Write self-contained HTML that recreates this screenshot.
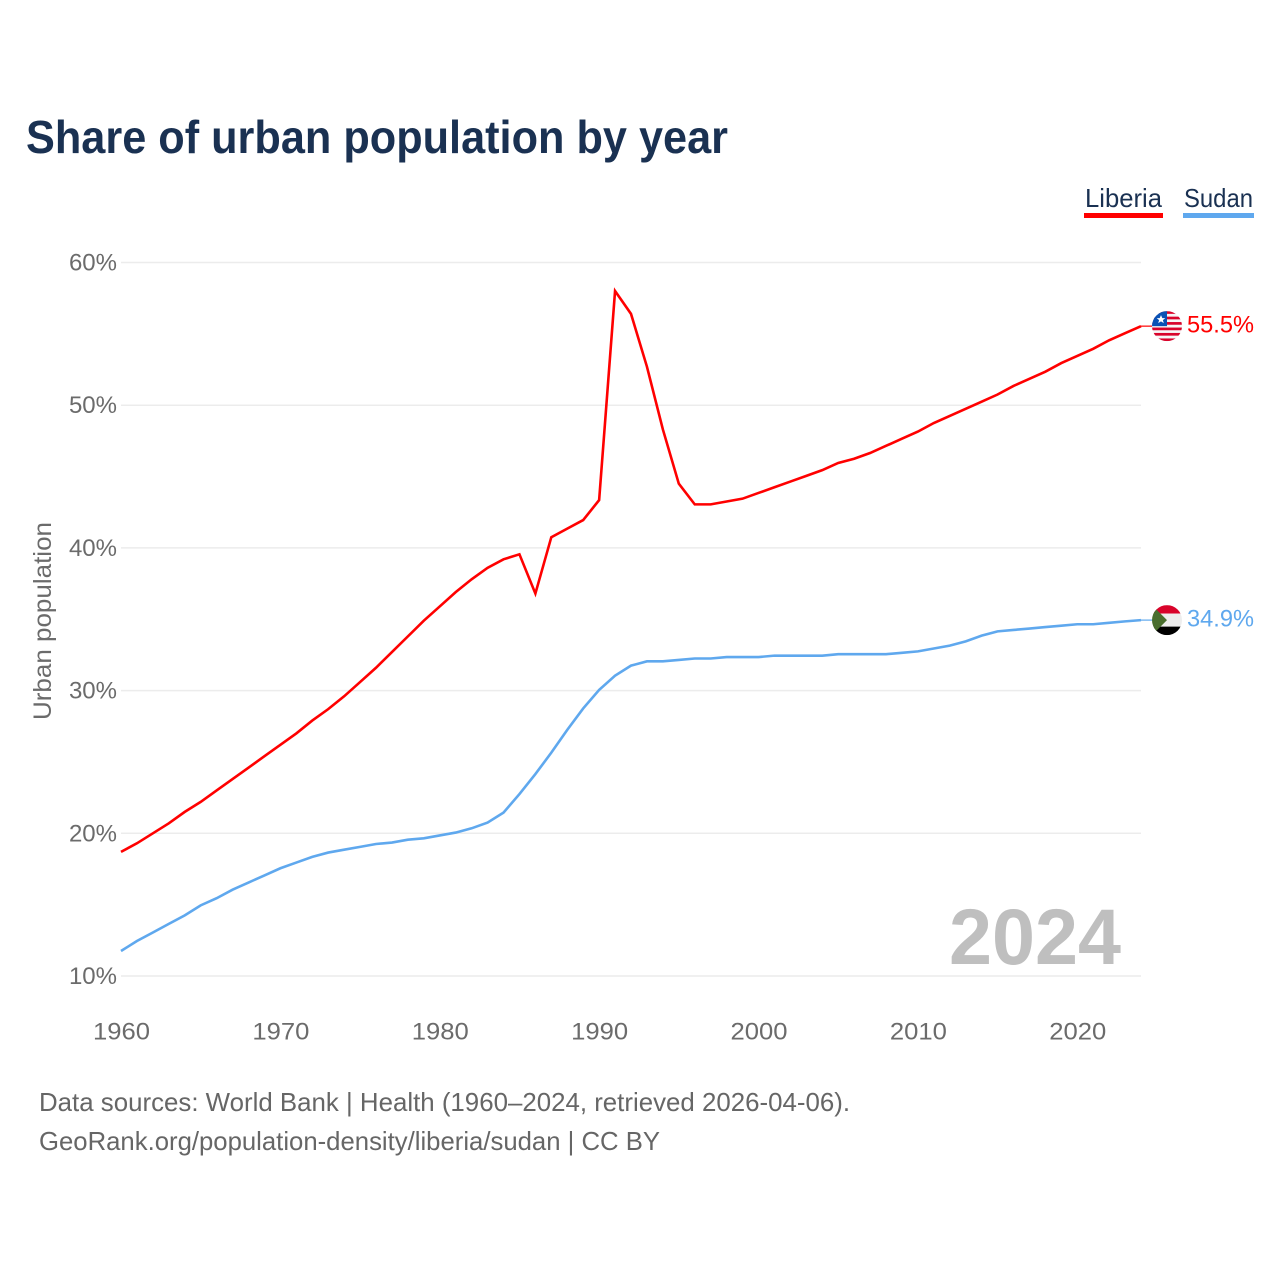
<!DOCTYPE html>
<html lang="en">
<head>
<meta charset="utf-8">
<title>Share of urban population by year</title>
<style>
html,body{margin:0;padding:0;background:#fff}
svg{display:block;font-family:"Liberation Sans",sans-serif}
</style>
</head>
<body>
<svg id="chart" xmlns="http://www.w3.org/2000/svg" width="1280" height="1280" viewBox="0 0 1280 1280">
  <defs>
    <clipPath id="flag-clip"><circle cx="0" cy="0" r="15"></circle></clipPath>
  </defs>
  <rect x="0" y="0" width="1280" height="1280" fill="#fff"></rect>
  <text x="26" y="153" font-size="46" font-weight="700" fill="#1a3152" textLength="702" lengthAdjust="spacingAndGlyphs">Share of urban population by year</text>

  <g>
    <g>
      <text x="1085" y="207" font-size="26" fill="#1a3152" textLength="77" lengthAdjust="spacingAndGlyphs">Liberia</text>
      <rect x="1084" y="213" width="79" height="5" fill="#ff0000"></rect>
    </g>
    <g>
      <text x="1184" y="207" font-size="26" fill="#1a3152" textLength="69" lengthAdjust="spacingAndGlyphs">Sudan</text>
      <rect x="1183" y="213" width="71" height="5" fill="#5fa8ee"></rect>
    </g>
  </g>

  <g id="grid"></g>
  <g id="y-ticks"></g>
  <g id="x-ticks"></g>
  <text transform="translate(51,720) rotate(-90)" x="0" y="0" font-size="25" fill="#6b6b6b" textLength="198" lengthAdjust="spacingAndGlyphs">Urban population</text>
  <text id="year-label" x="949" y="964" font-size="79" font-weight="700" fill="#bfbfbf" textLength="172" lengthAdjust="spacingAndGlyphs"></text>
  <g id="series"></g>

  <g id="flag-liberia">
    <g clip-path="url(#flag-clip)">
      <rect x="-15" y="-15" width="30" height="30" fill="#f6f6f6"></rect>
      <rect x="-15" y="-15" width="30" height="2.7" fill="#d9042b"></rect>
      <rect x="-15" y="-9.5" width="30" height="2.7" fill="#d9042b"></rect>
      <rect x="-15" y="-4.1" width="30" height="2.7" fill="#d9042b"></rect>
      <rect x="-15" y="1.4" width="30" height="2.7" fill="#d9042b"></rect>
      <rect x="-15" y="6.8" width="30" height="2.7" fill="#d9042b"></rect>
      <rect x="-15" y="12.3" width="30" height="2.7" fill="#d9042b"></rect>
      <rect x="-15" y="-15" width="15" height="15" fill="#0a52b5"></rect>
      <polygon points="-6,-11 -4.7,-8 -1.7,-8 -4.1,-6 -3.2,-3 -6,-4.8 -8.8,-3 -7.9,-6 -10.3,-8 -7.3,-8" fill="#fff"></polygon>
    </g>
  </g>
  <g id="flag-sudan">
    <g clip-path="url(#flag-clip)">
      <rect x="-15" y="-15" width="30" height="8.5" fill="#d9042b"></rect>
      <rect x="-15" y="-6.5" width="30" height="13" fill="#eeeeee"></rect>
      <rect x="-15" y="6.5" width="30" height="8.5" fill="#000"></rect>
      <polygon points="-15,-15 0,0 -15,15" fill="#496e2d"></polygon>
    </g>
  </g>
  <text id="end-liberia" x="1187" font-size="24.5" fill="#ff0000" textLength="67" lengthAdjust="spacingAndGlyphs"></text>
  <text id="end-sudan" x="1187" font-size="24.5" fill="#5fa8ee" textLength="67" lengthAdjust="spacingAndGlyphs"></text>

  <text x="39" y="1111" font-size="26" fill="#666" textLength="811" lengthAdjust="spacingAndGlyphs">Data sources: World Bank | Health (1960–2024, retrieved 2026-04-06).</text>
  <text x="39" y="1150" font-size="26" fill="#666" textLength="621" lengthAdjust="spacingAndGlyphs">GeoRank.org/population-density/liberia/sudan | CC BY</text>
</svg>
<script>
var startYear = 1960;
var endYear = 2024;
var yTicks = [10, 20, 30, 40, 50, 60];
var xTicks = [1960, 1970, 1980, 1990, 2000, 2010, 2020];
var liberiaValues = [18.7,19.3,20.0,20.7,21.5,22.2,23.0,23.8,24.6,25.4,26.2,27.0,27.9,28.7,29.6,30.6,31.6,32.7,33.8,34.9,35.9,36.9,37.8,38.6,39.2,39.55,36.8,40.75,41.35,41.95,43.35,58.0,56.4,52.7,48.3,44.5,43.05,43.05,43.25,43.45,43.85,44.25,44.65,45.05,45.45,45.95,46.25,46.65,47.15,47.65,48.15,48.75,49.25,49.75,50.25,50.75,51.35,51.85,52.35,52.95,53.45,53.95,54.55,55.05,55.54];
var sudanValues = [11.75,12.45,13.05,13.65,14.25,14.95,15.45,16.05,16.55,17.05,17.55,17.95,18.35,18.65,18.85,19.05,19.25,19.35,19.55,19.65,19.85,20.05,20.35,20.75,21.45,22.75,24.15,25.65,27.25,28.75,30.05,31.05,31.75,32.05,32.05,32.15,32.25,32.25,32.35,32.35,32.35,32.45,32.45,32.45,32.45,32.55,32.55,32.55,32.55,32.65,32.75,32.95,33.15,33.45,33.85,34.15,34.25,34.35,34.45,34.55,34.65,34.65,34.75,34.85,34.94];

var NS = 'http://www.w3.org/2000/svg';
function x(year) { return 121 + (year - startYear) * (1141 - 121) / (endYear - startYear); }
function y(value) { return 976 - (value - 10) * (976 - 262.5) / 50; }
function make(tag, attrs, parent) {
  var el = document.createElementNS(NS, tag);
  for (var k in attrs) el.setAttribute(k, attrs[k]);
  parent.appendChild(el);
  return el;
}
var grid = document.getElementById('grid');
var yG = document.getElementById('y-ticks');
var xG = document.getElementById('x-ticks');
var seriesG = document.getElementById('series');

yTicks.forEach(function (t) {
  var line = make('line', {x1: 121, x2: 1141, y1: y(t), y2: y(t), stroke: '#ececec', 'stroke-width': 1.5}, grid);
  
  
  var label = make('text', {x: 117, y: y(t) + 8, 'text-anchor': 'end', 'font-size': 24, fill: '#6b6b6b'}, yG);
  
  
  label.textContent = t + '%';
});
xTicks.forEach(function (t) {
  var label = make('text', {x: x(t) + 0.5, y: 1039.5, 'text-anchor': 'middle', 'font-size': 24, fill: '#6b6b6b', textLength: 57, lengthAdjust: 'spacingAndGlyphs'}, xG);
  
  
  label.textContent = t;
});

function drawSeries(values, color, lineName, leaderName) {
  var pts = values.map(function (v, i) { return x(startYear + i).toFixed(2) + ',' + y(v).toFixed(2); }).join(' ');
  var line = make('polyline', {points: pts, fill: 'none', stroke: color, 'stroke-width': 2.6, 'stroke-linejoin': 'miter'}, seriesG);
  
  
  var last = y(values[values.length - 1]);
  var leader = make('line', {x1: x(endYear), x2: 1152, y1: last, y2: last, stroke: color, 'stroke-width': 1.2}, seriesG);
  
  
  return last;
}
var lastL = drawSeries(liberiaValues, '#ff0000', 'line-liberia', 'leader-liberia');
var lastS = drawSeries(sudanValues, '#5fa8ee', 'line-sudan', 'leader-sudan');

document.getElementById('flag-liberia').setAttribute('transform', 'translate(1167,' + lastL + ')');
document.getElementById('flag-sudan').setAttribute('transform', 'translate(1167,' + lastS + ')');
var endL = document.getElementById('end-liberia');
endL.setAttribute('y', lastL + 6.5);
endL.textContent = liberiaValues[liberiaValues.length - 1].toFixed(1) + '%';
var endS = document.getElementById('end-sudan');
endS.setAttribute('y', lastS + 6.5);
endS.textContent = sudanValues[sudanValues.length - 1].toFixed(1) + '%';
document.getElementById('year-label').textContent = endYear;
</script>
</body>
</html>
